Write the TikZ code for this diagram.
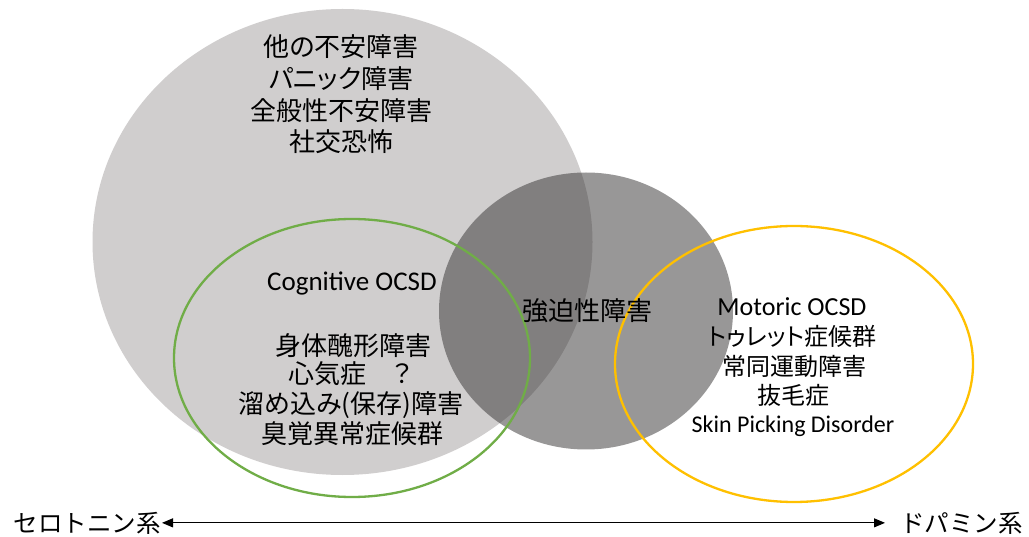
\documentclass[tikz,border=0pt]{standalone}
\usepackage{fontspec}
\setmainfont{Noto Sans CJK JP}[RawFeature=+palt]
\newfontfamily\jpfull{Noto Sans CJK JP}
\newfontfamily\lat{Carlito}
\usetikzlibrary{arrows.meta}
\definecolor{lgray}{HTML}{D0CECE}
\definecolor{dgray}{HTML}{333131}
\definecolor{ocgreen}{HTML}{70AD47}
\definecolor{ocyellow}{HTML}{FFC000}
\begin{document}
\begin{tikzpicture}[x=1pt,y=-1pt,
  jptext/.style={anchor=base, inner sep=0pt, font=\fontsize{#1}{#1}\selectfont},
  axistext/.style={inner sep=0pt, font=\jpfull\fontsize{#1}{#1}\selectfont},
  lattext/.style={anchor=base, inner sep=0pt, font=\lat\fontsize{#1}{#1}\selectfont},
  ring/.style={draw=#1, line width=2.3pt}]
\fill[white] (0,0) rectangle (1029,537);
\useasboundingbox (0,0) rectangle (1029,537);
% shapes
\fill[lgray] (342.5,242) ellipse [x radius=250, y radius=233];
\fill[dgray, fill opacity=0.5] (586,311) ellipse [x radius=147, y radius=138.5];
\draw[ring=ocgreen] (352,358) ellipse [x radius=178, y radius=139];
\draw[ring=ocyellow] (794,364) ellipse [x radius=179, y radius=138];
% top block
\node[jptext=26] (t1) at (341,57) {他の不安障害};
\node[jptext=26] (t2) at (341,89) {パニック障害};
\node[jptext=26] (t3) at (341,121) {全般性不安障害};
\node[jptext=26] (t4) at (341,152) {社交恐怖};
% left block
\node[lattext=27] (c0) at (352,291) {Cognitive OCSD};
\node[jptext=26] (c1) at (353,356) {身体醜形障害};
\node[jptext=26] (c2) at (350,384) {心気症　？};
\node[jptext=26] (c3) at (351,414) {溜め込み(保存)障害};
\node[jptext=26] (c4) at (352,444) {臭覚異常症候群};
% center
\node[jptext=26] (ocd) at (587,321) {強迫性障害};
% right block
\node[lattext=26] (m0) at (792,316) {Motoric OCSD};
\node[jptext=24] (m1) at (792,346) {トゥレット症候群};
\node[jptext=24] (m2) at (794,376) {常同運動障害};
\node[jptext=24] (m3) at (793,405) {抜毛症};
\node[lattext=24] (m4) at (793,433) {Skin Picking Disorder};
% axis
\node[axistext=24.5, anchor=base east] (sero) at (161,532) {セロトニン系};
\node[axistext=24.5, anchor=base west] (dopa) at (900,532) {ドパミン系};
\draw[{Triangle[length=11pt,width=9pt]}-{Triangle[length=11pt,width=9pt]}, line width=1pt, shorten <=1pt, shorten >=15pt] (sero.east) -- (dopa.west);
\end{tikzpicture}
\end{document}
